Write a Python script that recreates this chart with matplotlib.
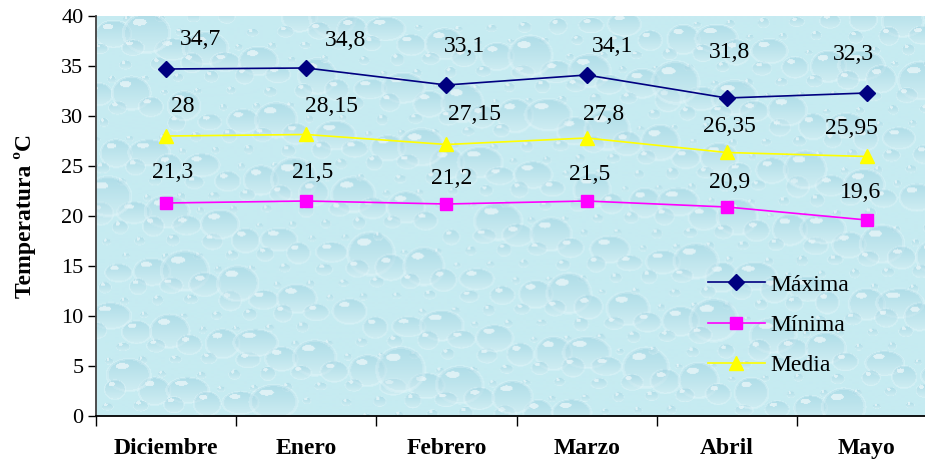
import numpy as np
import matplotlib
matplotlib.use("Agg")
import matplotlib.pyplot as plt

# monthly temperatures (ºC)
meses = ["Diciembre", "Enero", "Febrero", "Marzo", "Abril", "Mayo"]
maxima = [34.7, 34.8, 33.1, 34.1, 31.8, 32.3]
minima = [21.3, 21.5, 21.2, 21.5, 20.9, 19.6]
media = [28.0, 28.15, 27.15, 27.8, 26.35, 25.95]

# label nudges in pixels (dx, dy) relative to each marker
off_max = [(34, 29), (39, 28), (18, 39), (26, 28), (3, 46), (-13, 39)]
off_med = [(17, 30), (25, 28), (28, 30), (17, 23), (3, 26), (-15, 28)]
off_min = [(7, 31), (6, 29), (5, 25), (3, 27), (3, 24), (-6, 27)]

SERIF = ["Liberation Serif", "DejaVu Serif"]
plt.rcParams["font.family"] = SERIF


def fmt(v):
    s = f"{v:.2f}".rstrip("0").rstrip(".")
    return s.replace(".", ",")


def droplet_texture(h, w):
    """Pale cyan backdrop with soft water drops (deterministic layout)."""
    img = np.empty((h, w, 3))
    img[:] = np.array([198, 235, 241]) / 255.0
    yy, xx = np.mgrid[0:h, 0:w]
    phi = (np.sqrt(5) - 1) / 2
    n = 650
    for k in range(n):
        cx = (k * phi) % 1.0 * w
        cy = (k * 0.7548776662 + 0.31) % 1.0 * h
        s = ((k * 0.5698402910) % 1.0) ** 2.5
        rx = 4 + 20 * s
        ry = rx * (0.6 + 0.35 * ((k * 0.41421356) % 1.0))
        x0, x1 = int(max(cx - rx - 2, 0)), int(min(cx + rx + 3, w))
        y0, y1 = int(max(cy - ry - 2, 0)), int(min(cy + ry + 3, h))
        if x1 <= x0 or y1 <= y0:
            continue
        X = xx[y0:y1, x0:x1]
        Y = yy[y0:y1, x0:x1]
        d = np.sqrt(((X - cx) / rx) ** 2 + ((Y - cy) / ry) ** 2)
        inside = d < 1.0
        t = np.clip((Y - (cy - ry)) / (2 * ry), 0, 1)
        body = np.stack([140 + 80 * t, 200 + 40 * t, 218 + 26 * t], -1) / 255.0
        patch = img[y0:y1, x0:x1]
        patch[inside] = 0.6 * patch[inside] + 0.4 * body[inside]
        rim = (d >= 0.92) & (d < 1.06)
        patch[rim] = 0.75 * patch[rim] + 0.25 * np.array([0.95, 0.99, 1.0])
        hl = np.sqrt(((X - (cx - 0.3 * rx)) / (0.3 * rx)) ** 2
                     + ((Y - (cy - 0.55 * ry)) / (0.12 * ry + 1)) ** 2) < 1.0
        patch[hl] = 0.45 * patch[hl] + 0.55
        img[y0:y1, x0:x1] = patch
    return np.clip(img, 0, 1)


fig = plt.figure(figsize=(9.25, 4.65), dpi=100)
ax = fig.add_axes([96 / 925, 49 / 465, 841 / 925, 400 / 465])

x = np.arange(len(meses))
ax.set_xlim(-0.5, len(meses) - 0.5)
ax.set_ylim(0, 40)

ax.imshow(droplet_texture(400, 841), extent=(-0.5, len(meses) - 0.5, 0, 40),
          aspect="auto", zorder=0, interpolation="bilinear")

ax.plot(x, maxima, color="#000080", lw=1.2, marker="D", ms=8.5,
        label="Máxima", zorder=3)
ax.plot(x, minima, color="#FF00FF", lw=1.2, marker="s", ms=8,
        label="Mínima", zorder=3)
ax.plot(x, media, color="#FFFF00", lw=1.2, marker="^", ms=9.5,
        label="Media", zorder=3)

for vals, offs in ((maxima, off_max), (media, off_med), (minima, off_min)):
    for xi, v, (dx, dy) in zip(x, vals, offs):
        ax.annotate(fmt(v), (xi, v), xytext=(dx, dy), textcoords="offset pixels",
                    ha="center", va="center", fontsize=17, color="black",
                    zorder=4)

ax.set_yticks(range(0, 41, 5))
ax.tick_params(axis="y", labelsize=16, length=6, width=1, pad=3)
ax.set_xticks(np.arange(-0.5, len(meses), 1.0))
ax.set_xticklabels([])
ax.set_xticks(x, minor=True)
ax.set_xticklabels(meses, minor=True, fontsize=17, fontweight="bold")
ax.tick_params(axis="x", which="major", length=7, width=1)
ax.tick_params(axis="x", which="minor", length=0, pad=16)

ax.set_ylabel("Temperatura ºC", fontsize=17, fontweight="bold", labelpad=18)

for side in ("top", "right"):
    ax.spines[side].set_visible(False)
ax.spines["left"].set_color("#404040")
ax.spines["left"].set_linewidth(1.3)
ax.spines["bottom"].set_linewidth(1.3)

leg = ax.legend(loc="upper left", bbox_to_anchor=(708 / 925, 1 - 274 / 465),
                bbox_transform=fig.transFigure, frameon=False, fontsize=17,
                handlelength=2.4, handletextpad=0.25, labelspacing=0.8,
                borderpad=0, borderaxespad=0)

fig.savefig("out.png", dpi=100)
